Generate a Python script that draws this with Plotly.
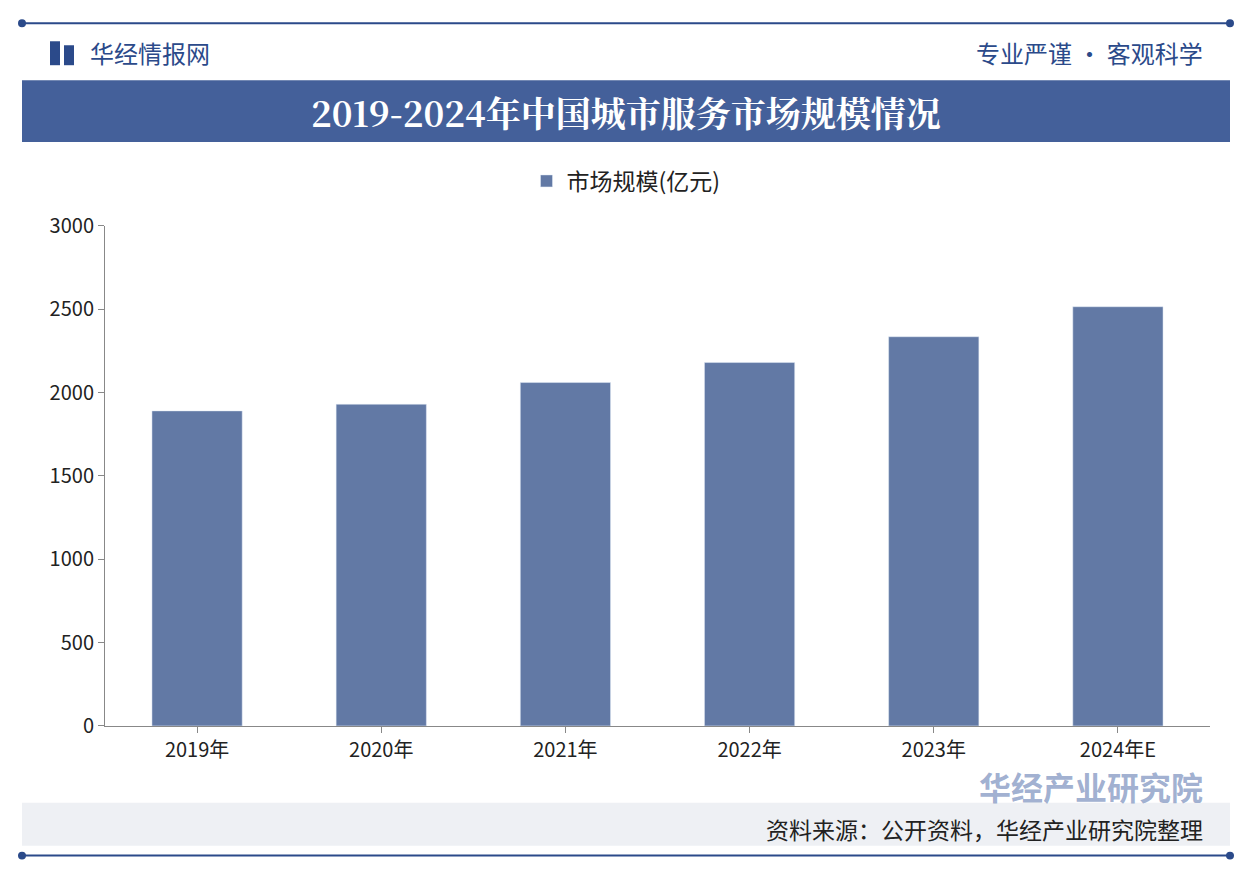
import plotly.graph_objects as go

years = ["2019年", "2020年", "2021年", "2022年", "2023年", "2024年E"]
market_size = [1890, 1930, 2060, 2180, 2335, 2515]
y_ticks = [0, 500, 1000, 1500, 2000, 2500, 3000]

W, H = 1246, 880
font = "Noto Sans CJK SC"


# page pixel -> paper fraction (compensates for the page offset seen on render)
def fx(px):
    return (px - 8) / W


def fy(py):
    return 1 - ((py - 22.7) / 0.969) / H


fig = go.Figure()
fig.add_trace(go.Bar(x=years, y=market_size, name="市场规模(亿元)",
                     marker_color="#6279a5", width=0.49))

blue = "#2b4a8a"
shapes = [
    dict(type="line", x0=fx(22), x1=fx(1230), y0=fy(22), y1=fy(22), line=dict(color=blue, width=2)),
    dict(type="line", x0=fx(22), x1=fx(1230), y0=fy(856), y1=fy(856), line=dict(color=blue, width=2)),
    dict(type="rect", x0=fx(22), x1=fx(1230), y0=fy(141), y1=fy(79),
         fillcolor="#44609a", line_width=0, layer="below"),
    dict(type="rect", x0=fx(22), x1=fx(1230), y0=fy(846), y1=fy(803),
         fillcolor="#eef0f4", line_width=0, layer="below"),
    dict(type="rect", x0=fx(50), x1=fx(60), y0=fy(64), y1=fy(40), fillcolor=blue, line_width=0),
    dict(type="rect", x0=fx(64), x1=fx(74), y0=fy(64), y1=fy(44), fillcolor=blue, line_width=0),
]
for x in (22, 1230):
    for y in (22, 856):
        shapes.append(dict(type="circle", x0=fx(x-4), x1=fx(x+4), y0=fy(y+4), y1=fy(y-4),
                           fillcolor=blue, line_width=0))
for s in shapes:
    s.update(xref="paper", yref="paper")

annotations = [
    dict(text="华经情报网", x=fx(88), y=fy(51), xanchor="left", yanchor="middle",
         font=dict(size=24, color=blue, family=font)),
    dict(text="专业严谨 • 客观科学", x=fx(1205), y=fy(51), xanchor="right", yanchor="middle",
         font=dict(size=24, color=blue, family=font)),
    dict(text="<b>2019-2024年中国城市服务市场规模情况</b>", x=fx(626), y=fy(111),
         xanchor="center", yanchor="middle",
         font=dict(size=35, color="white", family="Noto Serif CJK SC, " + font)),
    dict(text="资料来源：公开资料，华经产业研究院整理", x=fx(1205), y=fy(829),
         xanchor="right", yanchor="middle", font=dict(size=23, color="#222", family=font)),
    dict(text="<b>华经产业研究院</b>", x=fx(1205), y=fy(786), xanchor="right", yanchor="middle",
         font=dict(size=32, color="rgba(80,110,170,0.55)", family=font)),
]
for a in annotations:
    a.update(xref="paper", yref="paper", showarrow=False)

fig.update_layout(
    width=W, height=H,
    margin=dict(l=0, r=0, t=0, b=0),
    paper_bgcolor="white", plot_bgcolor="white",
    font=dict(family=font, size=20, color="#222"),
    shapes=shapes, annotations=annotations,
    showlegend=True,
    legend=dict(orientation="h", x=fx(626), xanchor="center", y=fy(180),
                yanchor="middle", font=dict(size=23)),
    bargap=0.5,
    xaxis=dict(domain=[fx(105), fx(1210)], showline=True, linecolor="#888", ticks="outside",
               tickcolor="#888", ticklen=6, tickfont=dict(size=20)),
    yaxis=dict(domain=[fy(726), fy(225)], range=[0, 3000], tickvals=y_ticks, showgrid=False,
               showline=True, linecolor="#888", ticks="outside", tickcolor="#888", ticklen=6,
               tickfont=dict(size=20)),
)

fig.write_html("out.html")
